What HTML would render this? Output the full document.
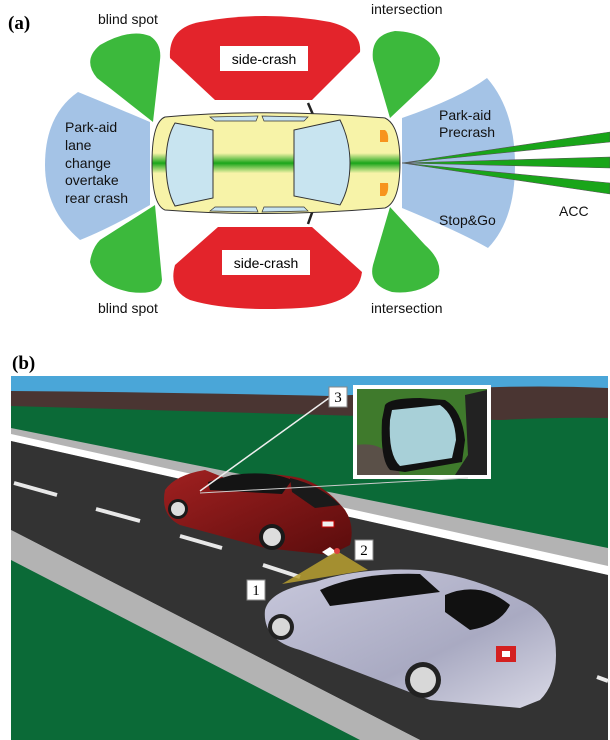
<!DOCTYPE html>
<html><head><meta charset="utf-8"><style>
body{margin:0;background:#fff;}
svg{display:block}
text{font-family:"Liberation Sans",sans-serif;}
</style></head><body>
<svg width="610" height="740" viewBox="0 0 610 740">
<defs>
<linearGradient id="gs" x1="0" y1="0" x2="0" y2="1">
<stop offset="0" stop-color="#f7f3a8"/><stop offset="0.4" stop-color="#f7f3a8"/>
<stop offset="0.5" stop-color="#1aa51a"/><stop offset="0.6" stop-color="#f7f3a8"/><stop offset="1" stop-color="#f7f3a8"/>
</linearGradient>
<linearGradient id="red" x1="0" y1="0" x2="1" y2="1"><stop offset="0" stop-color="#a02020"/><stop offset="1" stop-color="#5a0c0c"/></linearGradient>
<linearGradient id="sil" x1="0" y1="0" x2="1" y2="1"><stop offset="0" stop-color="#c8c8dc"/><stop offset="0.6" stop-color="#a9aac2"/><stop offset="1" stop-color="#d9d9e6"/></linearGradient>
</defs>
<!-- (a) -->
<text x="8" y="29" style="font-family:'Liberation Serif',serif;font-weight:bold;font-size:19px">(a)</text>
<!-- blue zones -->
<path d="M150,122 L150,205 Q110,228 80,240 Q45,210 45,165 Q45,115 78,92 Q110,105 150,122Z" fill="#a4c3e6"/>
<path d="M402,118 L402,208 Q460,232 488,248 Q515,220 515,165 Q515,110 487,78 Q460,98 402,118Z" fill="#a4c3e6"/>
<!-- red -->
<path d="M215,100 L170,58 Q168,28 200,22 Q265,10 330,22 Q362,30 360,52 L312,100Z" fill="#e3242b"/>
<path d="M218,227 L312,227 L362,272 Q358,305 300,308 Q230,312 190,300 Q168,290 175,265Z" fill="#e3242b"/>
<rect x="220" y="46" width="88" height="25" fill="#fff"/>
<rect x="222" y="250" width="88" height="25" fill="#fff"/>
<text x="264" y="64" font-size="14" text-anchor="middle">side-crash</text>
<text x="266" y="268" font-size="14" text-anchor="middle">side-crash</text>
<!-- green -->
<path d="M153,122 L97,78 Q82,60 100,45 Q130,28 150,36 Q162,44 160,60Z" fill="#3cb93c"/>
<path d="M155,205 L162,280 Q160,296 130,292 Q95,285 90,262 Q92,248 100,240Z" fill="#3cb93c"/>
<path d="M390,118 L373,60 Q370,35 395,31 Q430,32 440,58 Q440,72 425,85Z" fill="#3cb93c"/>
<path d="M390,207 L425,245 Q444,262 438,278 Q420,295 392,292 Q368,285 373,265Z" fill="#3cb93c"/>
<!-- ACC beams -->
<polygon points="402,163 610,132 610,142" fill="#19a519" stroke="#555" stroke-width="0.6"/>
<polygon points="402,163 610,157 610,168" fill="#19a519" stroke="#555" stroke-width="0.6"/>
<polygon points="402,163 610,183 610,194" fill="#19a519" stroke="#555" stroke-width="0.6"/>
<!-- mirrors -->
<line x1="308" y1="103" x2="314" y2="117" stroke="#222" stroke-width="2.5"/>
<line x1="308" y1="224" x2="313" y2="210" stroke="#222" stroke-width="2.5"/>
<!-- car -->
<path d="M165,117 Q270,108 385,118 Q400,125 400,163 Q400,202 385,208 Q270,218 165,210 Q152,205 152,163 Q152,122 165,117Z" fill="url(#gs)" stroke="#333" stroke-width="1"/>
<path d="M175,123 L213,130 L213,198 L175,206 Q166,190 166,163 Q166,138 175,123Z" fill="#c8e4f0" stroke="#333" stroke-width="1"/>
<path d="M294,130 L340,120 Q350,140 350,163 Q350,188 340,205 L294,196Z" fill="#c8e4f0" stroke="#333" stroke-width="1"/>
<path d="M210,117 L258,116 L256,121 L215,121Z M262,116 L308,117 L304,121 L264,121Z" fill="#c8e4f0" stroke="#333" stroke-width="0.7"/>
<path d="M210,211 L258,212 L256,207 L215,207Z M262,212 L308,211 L304,207 L264,207Z" fill="#c8e4f0" stroke="#333" stroke-width="0.7"/>
<path d="M380,130 h5 q4,3 3,12 h-8Z" fill="#f7941d"/>
<path d="M380,183 h8 q1,10 -3,13 h-5Z" fill="#f7941d"/>
<g font-size="14" fill="#111">
<text x="98" y="24">blind spot</text>
<text x="98" y="313">blind spot</text>
<text x="371" y="14">intersection</text>
<text x="371" y="313">intersection</text>
<text x="65" y="132">Park-aid</text>
<text x="65" y="150">lane</text>
<text x="65" y="168">change</text>
<text x="65" y="185">overtake</text>
<text x="65" y="203">rear crash</text>
<text x="439" y="120">Park-aid</text>
<text x="439" y="137">Precrash</text>
<text x="439" y="225">Stop&amp;Go</text>
<text x="559" y="216">ACC</text>
</g>
<!-- (b) -->
<text x="12" y="369" style="font-family:'Liberation Serif',serif;font-weight:bold;font-size:19px">(b)</text>
<rect x="11" y="376" width="597" height="364" fill="#0b6a37"/>
<rect x="11" y="376" width="597" height="20" fill="#4aa6d8"/>
<path d="M11,391 Q150,392 330,396 Q420,392 470,388 Q540,385 608,388 L608,418 Q560,417 500,420 L11,406Z" fill="#4a3532"/>
<!-- road -->
<polygon points="11,428 608,548 608,740 11,740" fill="#b3b3b3"/>
<polygon points="11,434 608,566 608,575 11,441" fill="#fff"/>
<polygon points="11,441 608,575 608,740 420,740 11,530" fill="#333"/>
<polygon points="11,530 420,740 360,740 11,560" fill="#b3b3b3"/>
<polygon points="11,560 360,740 11,740" fill="#0b6a37"/>
<g stroke="#e8e8e8" stroke-width="4">
<line x1="14" y1="483" x2="57" y2="495"/>
<line x1="96" y1="509" x2="140" y2="521"/>
<line x1="180" y1="536" x2="222" y2="548"/>
<line x1="263" y1="565" x2="300" y2="577"/>
<line x1="597" y1="677" x2="608" y2="681"/>
</g>
<!-- red car -->
<path d="M165,490 Q175,475 205,470 L225,478 Q262,470 300,478 Q325,485 345,510 Q355,525 350,545 L330,555 L265,548 L180,525 Q160,515 165,490Z" fill="url(#red)"/>
<path d="M208,482 L232,475 Q270,470 292,480 L282,494 L210,490Z" fill="#141414"/>
<path d="M290,478 Q320,485 340,505 L315,508 L292,492Z" fill="#1a1a1a"/>
<path d="M322,552 L330,547 L338,553 L328,556Z" fill="#fff"/>
<circle cx="272" cy="537" r="13" fill="#1a1a1a"/><circle cx="272" cy="537" r="9" fill="#ddd"/>
<circle cx="178" cy="509" r="10" fill="#1a1a1a"/><circle cx="178" cy="509" r="7" fill="#ddd"/>
<path d="M322,521 h12 v6 h-12z" fill="#f0f0f0" stroke="#c00"/>
<!-- yellow sensor -->
<polygon points="282,584 337,551 368,570" fill="#b8a030" opacity="0.85"/>
<circle cx="337" cy="551" r="3" fill="#e04040"/>
<!-- silver car -->
<path d="M265,610 Q270,590 315,582 Q360,567 420,570 Q470,575 520,600 Q548,612 555,640 Q560,680 540,700 L520,708 L430,700 L300,650 Q262,640 265,610Z" fill="url(#sil)"/>
<path d="M320,590 Q360,572 420,574 L440,592 L330,606Z" fill="#111"/>
<path d="M445,595 Q480,580 510,605 Q500,625 470,630 L445,612Z" fill="#111"/>
<path d="M496,646 h20 v16 h-20z" fill="#d42020"/>
<path d="M502,651 h8 v6 h-8z" fill="#fff"/>
<circle cx="423" cy="680" r="18" fill="#222"/><circle cx="423" cy="680" r="13" fill="#d8d8d8"/>
<circle cx="281" cy="627" r="13" fill="#222"/><circle cx="281" cy="627" r="9" fill="#d8d8d8"/>
<!-- inset -->
<rect x="353" y="385" width="138" height="94" fill="#fff"/>
<rect x="357" y="389" width="130" height="86" fill="#3f7a2c"/>
<path d="M357,445 Q390,440 400,475 L357,475Z" fill="#5a5048"/>
<path d="M385,405 Q390,398 420,398 L445,400 Q462,410 465,440 L462,462 L405,472 L390,470 Q380,460 382,420Z" fill="#111"/>
<path d="M392,410 L440,405 Q455,415 456,440 L452,458 L400,466 Q388,455 390,420Z" fill="#a8d0d8"/>
<path d="M465,395 L487,390 L487,475 L455,475 L468,455Z" fill="#222"/>
<!-- leader lines -->
<line x1="329" y1="398" x2="200" y2="491" stroke="#eee" stroke-width="1.5"/>
<line x1="200" y1="493" x2="468" y2="478" stroke="#ccc" stroke-width="1"/>
<g style="font-family:'Liberation Serif',serif;font-size:15px" text-anchor="middle">
<rect x="329" y="387" width="18" height="20" fill="#fff" stroke="#888"/><text x="338" y="402" style="font-family:'Liberation Serif',serif">3</text>
<rect x="355" y="540" width="18" height="20" fill="#fff" stroke="#888"/><text x="364" y="555" style="font-family:'Liberation Serif',serif">2</text>
<rect x="247" y="580" width="18" height="20" fill="#fff" stroke="#888"/><text x="256" y="595" style="font-family:'Liberation Serif',serif">1</text>
</g>
</svg>
</body></html>
